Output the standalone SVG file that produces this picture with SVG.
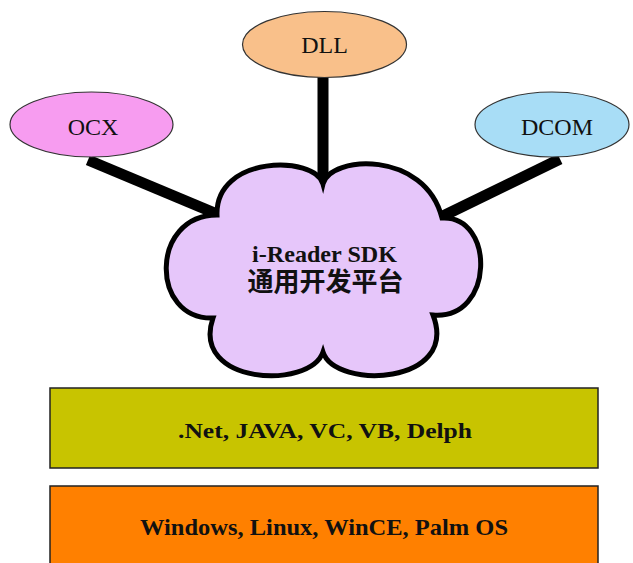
<svg xmlns="http://www.w3.org/2000/svg" width="633" height="563" viewBox="0 0 633 563">
<style>
.ell{stroke:#333;stroke-width:1.2}
.lbl{font-family:"Liberation Serif","Times New Roman",serif;font-size:24px;fill:#111;text-anchor:middle}
.conn{stroke:#000;stroke-width:11;stroke-linecap:butt}
.box{stroke:#222;stroke-width:1.5}
.bt{font-family:"Liberation Serif","Times New Roman",serif;font-weight:bold;fill:#111;text-anchor:middle}
.ct{font-family:"Liberation Serif","Noto Sans CJK SC",serif;font-weight:bold;fill:#111;text-anchor:middle}
</style>
<rect width="633" height="563" fill="#fff"/>
<g id="connectors">
<line class="conn" x1="323" y1="77" x2="323" y2="186"/>
<line class="conn" x1="88" y1="160" x2="217" y2="214"/>
<line class="conn" x1="560" y1="159" x2="443" y2="216"/>
</g>
<g id="dll">
<ellipse class="ell" cx="324.5" cy="44.5" rx="82" ry="33" fill="#F9C08A"/>
<text class="lbl" x="324.5" y="53">DLL</text>
</g>
<g id="ocx">
<ellipse class="ell" cx="91.5" cy="124.5" rx="81.5" ry="32.5" fill="#F79CF0"/>
<text class="lbl" x="93" y="135">OCX</text>
</g>
<g id="dcom">
<ellipse class="ell" cx="552" cy="124.5" rx="77" ry="32.5" fill="#A8DDF6"/>
<text class="lbl" x="557" y="135">DCOM</text>
</g>
<g id="sdk">
<path d="M323,184 C330,155 425,150 442,218 C495,215 495,320 433,315 C460,385 335,390 323,352 C310,390 190,385 213,318 C150,320 150,215 217,215 C215,155 315,155 323,184 Z" fill="#E6C6FA" stroke="#000" stroke-width="5" stroke-linejoin="miter"/>
<text class="ct" x="324.5" y="262" font-size="23" textLength="145" lengthAdjust="spacingAndGlyphs">i-Reader SDK</text>
<text class="ct" x="325.5" y="291" font-size="26">通用开发平台</text>
</g>
<g id="lang">
<rect class="box" x="50" y="388" width="548" height="80" fill="#C8C400"/>
<text class="bt" x="325" y="438" font-size="22" textLength="294" lengthAdjust="spacingAndGlyphs">.Net, JAVA, VC, VB, Delph</text>
</g>
<g id="os">
<rect class="box" x="50" y="486" width="548" height="80" fill="#FF8000"/>
<text class="bt" x="324" y="535" font-size="24" textLength="368" lengthAdjust="spacingAndGlyphs">Windows, Linux, WinCE, Palm OS</text>
</g>
</svg>
